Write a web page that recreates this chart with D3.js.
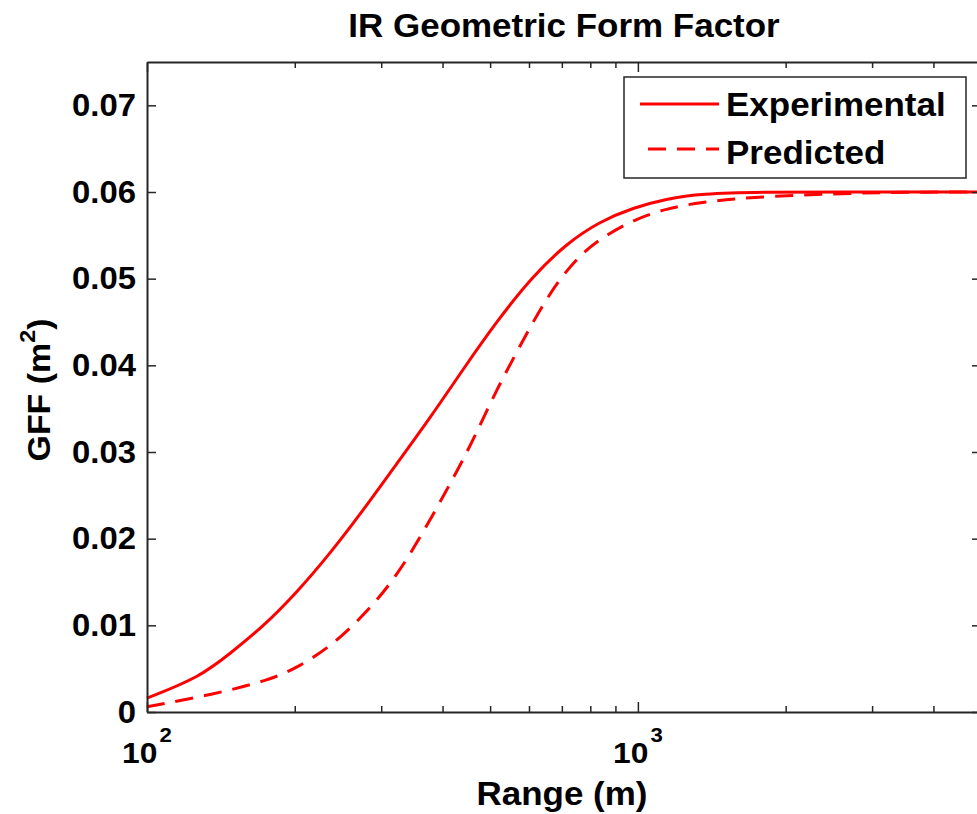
<!DOCTYPE html>
<html>
<head>
<meta charset="utf-8">
<script src="https://cdn.jsdelivr.net/npm/d3@7"></script>
<style>
  html, body { margin: 0; padding: 0; background: #fff; overflow: hidden; }
  svg { display: block; }
</style>
</head>
<body>
<svg id="chart" width="977" height="814"></svg>
<script>
// ---- data ----
const title = "IR Geometric Form Factor";
const xLabel = "Range (m)";
const seriesNames = ["Experimental", "Predicted"];

const rangeExp = [100, 128, 148, 172, 202, 236, 275, 323, 378, 440, 516, 611, 717, 837, 978, 1144, 1336, 1830, 2500, 5000];
const gffExp   = [0.0016, 0.0040, 0.0068, 0.0098, 0.0138, 0.0183, 0.0232, 0.0287, 0.0340, 0.0395, 0.0451, 0.0503, 0.0541, 0.0566, 0.0582, 0.0592, 0.0598, 0.0600, 0.0600, 0.0600];

const rangePred = [100, 136, 178, 202, 236, 275, 323, 378, 440, 476, 516, 560, 602, 641, 694, 762, 837, 978, 1144, 1336, 1686, 2500, 3500, 5000];
const gffPred   = [0.0006, 0.0020, 0.0037, 0.0051, 0.0075, 0.0110, 0.0156, 0.0222, 0.0290, 0.0330, 0.0372, 0.0410, 0.0443, 0.0470, 0.0500, 0.0527, 0.0546, 0.0568, 0.0581, 0.0588, 0.0594, 0.0598, 0.0600, 0.0600];

const yTicks = [0, 0.01, 0.02, 0.03, 0.04, 0.05, 0.06, 0.07];
const yTickLabels = ["0", "0.01", "0.02", "0.03", "0.04", "0.05", "0.06", "0.07"];
const xMajorTicks = [100, 1000];
const xMajorExp = ["2", "3"];
const xMinorTicks = [200, 300, 400, 500, 600, 700, 800, 900, 2000, 3000, 4000];
const xDomain = [100, 5000];
const yDomain = [0, 0.075];

// ---- layout ----
const SX = 1.06;
const FONT = '"Liberation Sans", Arial, Helvetica, sans-serif';
const AX = "#262626";
const RED = "#ff0000";
const L = 147, R = 981, T = 62, B = 712;

const svg = d3.select("#chart");
const x = d3.scaleLog().domain(xDomain).range([L, R]);
const y = d3.scaleLinear().domain(yDomain).range([B, T]);

function stretchText(sel) {
  sel.each(function () {
    const t = d3.select(this);
    const tx = +t.attr("x") || 0;
    t.attr("x", 0).attr("transform", `translate(${tx},0) scale(${SX},1)`);
  });
}

// curves
const lineGen = (xs, ys) => d3.line()
  .x((d, i) => x(xs[i]))
  .y((d, i) => y(ys[i]))
  .curve(d3.curveBasis)(xs);

svg.append("path")
  .attr("d", lineGen(rangePred, gffPred))
  .attr("fill", "none").attr("stroke", RED).attr("stroke-width", 3)
  .attr("stroke-dasharray", "18,11");

svg.append("path")
  .attr("d", lineGen(rangeExp, gffExp))
  .attr("fill", "none").attr("stroke", RED).attr("stroke-width", 3);

// axes
function styleAxis(g) {
  g.selectAll("path.domain").attr("stroke", AX).attr("stroke-width", 2);
  g.selectAll(".tick line").attr("stroke", AX).attr("stroke-width", 1.5);
}

// left
const gLeft = svg.append("g").attr("transform", `translate(${L},0)`)
  .call(d3.axisLeft(y).tickValues(yTicks).tickSizeInner(-9).tickSizeOuter(0).tickPadding(11)
    .tickFormat((d, i) => yTickLabels[i]));
styleAxis(gLeft);
gLeft.selectAll(".tick text")
  .attr("font-family", FONT).attr("font-size", 31).attr("font-weight", "bold")
  .attr("fill", "#000").attr("dy", null).attr("y", 10);
stretchText(gLeft.selectAll(".tick text"));

// right
const gRight = svg.append("g").attr("transform", `translate(${R},0)`)
  .call(d3.axisRight(y).tickValues(yTicks).tickSizeInner(-9).tickSizeOuter(0).tickFormat(""));
styleAxis(gRight);

// bottom major + minor
const gBot = svg.append("g").attr("transform", `translate(0,${B})`)
  .call(d3.axisBottom(x).tickValues(xMajorTicks).tickSizeInner(-10).tickSizeOuter(0).tickFormat(""));
styleAxis(gBot);
const gBotMin = svg.append("g").attr("transform", `translate(0,${B})`)
  .call(d3.axisBottom(x).tickValues(xMinorTicks).tickSizeInner(-6).tickSizeOuter(0).tickFormat(""));
styleAxis(gBotMin);
gBotMin.select("path.domain").remove();

// top major + minor
const gTop = svg.append("g").attr("transform", `translate(0,${T})`)
  .call(d3.axisTop(x).tickValues(xMajorTicks).tickSizeInner(-10).tickSizeOuter(0).tickFormat(""));
styleAxis(gTop);
const gTopMin = svg.append("g").attr("transform", `translate(0,${T})`)
  .call(d3.axisTop(x).tickValues(xMinorTicks).tickSizeInner(-6).tickSizeOuter(0).tickFormat(""));
styleAxis(gTopMin);
gTopMin.select("path.domain").remove();

// x tick labels with exponents
xMajorTicks.forEach((v, i) => {
  const g = svg.append("g").attr("transform", `translate(${x(v)},763) scale(${SX},1)`);
  const t = g.append("text").attr("text-anchor", "middle")
    .attr("font-family", FONT).attr("font-weight", "bold").attr("font-size", 30).attr("fill", "#000");
  t.append("tspan").text("10");
  t.append("tspan").style("font-size", "21px").attr("dx", 2).attr("dy", -21).text(xMajorExp[i]);
});

// title
svg.append("g").attr("transform", `translate(${(L + R) / 2},37) scale(${SX},1)`)
  .append("text").attr("text-anchor", "middle")
  .attr("font-family", FONT).attr("font-weight", "bold").attr("font-size", 33).attr("fill", "#000")
  .text(title);

// x label
svg.append("g").attr("transform", `translate(${(L + R) / 2 - 2},805) scale(${SX},1)`)
  .append("text").attr("text-anchor", "middle")
  .attr("font-family", FONT).attr("font-weight", "bold").attr("font-size", 33).attr("fill", "#000")
  .text(xLabel);

// y label
{
  const g = svg.append("g").attr("transform", `translate(50,${(T + B) / 2 + 3}) rotate(-90) scale(${SX},1)`);
  const t = g.append("text").attr("text-anchor", "middle")
    .attr("font-family", FONT).attr("font-weight", "bold").attr("font-size", 32).attr("fill", "#000");
  t.append("tspan").text("GFF (m");
  t.append("tspan").style("font-size", "22px").attr("dy", -15).text("2");
  t.append("tspan").attr("dy", 15).text(")");
}

// legend
{
  const lx = 624, ly = 77, lw = 342, lh = 101;
  svg.append("rect").attr("x", lx).attr("y", ly).attr("width", lw).attr("height", lh)
    .attr("fill", "#fff").attr("stroke", AX).attr("stroke-width", 1.5);
  const rows = [
    { name: seriesNames[0], dash: null, ly: 104, ty: 116 },
    { name: seriesNames[1], dash: "18,11", ly: 149, ty: 164 }
  ];
  rows.forEach(r => {
    const ln = svg.append("line").attr("x1", 640).attr("x2", 719).attr("y1", r.ly).attr("y2", r.ly)
      .attr("stroke", RED).attr("stroke-width", 3);
    if (r.dash) ln.attr("stroke-dasharray", r.dash).attr("stroke-dashoffset", 21);
    svg.append("g").attr("transform", `translate(726,${r.ty}) scale(${SX},1)`)
      .append("text").attr("font-family", FONT).attr("font-weight", "bold")
      .attr("font-size", 33).attr("fill", "#000").text(r.name);
  });
}
</script>
</body>
</html>
